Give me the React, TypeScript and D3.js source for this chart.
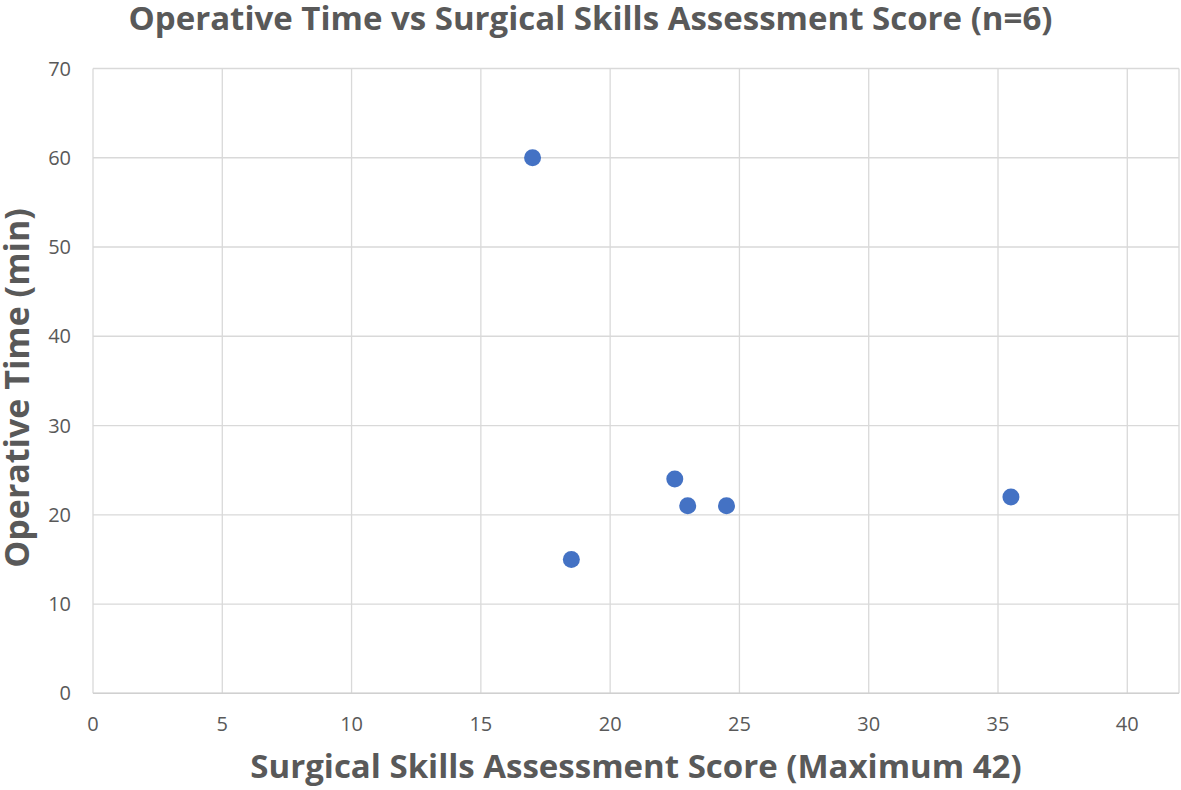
import React from "react";
import * as d3 from "d3";

const scores = [17, 18.5, 22.5, 23, 24.5, 35.5];
const times = [60, 15, 24, 21, 21, 22];
const xTicks = [0, 5, 10, 15, 20, 25, 30, 35, 40];
const yTicks = [0, 10, 20, 30, 40, 50, 60, 70];

const W = 1181;
const H = 790;
const FONT = "'Open Sans', 'Noto Sans', sans-serif";

export default function App() {
  const x = d3.scaleLinear().domain([0, 42]).range([93, 1179]);
  const y = d3.scaleLinear().domain([0, 70]).range([693.3, 68.5]);
  const pts = scores.map((s, i) => ({ s, t: times[i] }));
  return (
    <svg
      width={W}
      height={H}
      style={{ position: "absolute", left: 0, top: 0, background: "#fff" }}
    >
      <rect x={0} y={0} width={W} height={H} fill="#fff" />
      {yTicks.map((v) => (
        <line
          key={"gy" + v}
          x1={x(0)}
          x2={x(42)}
          y1={y(v)}
          y2={y(v)}
          stroke="#d9d9d9"
          strokeWidth={1.3}
        />
      ))}
      {xTicks.map((v) => (
        <line
          key={"gx" + v}
          x1={x(v)}
          x2={x(v)}
          y1={y(0)}
          y2={y(70)}
          stroke="#d9d9d9"
          strokeWidth={1.3}
        />
      ))}
      <line x1={x(42)} x2={x(42)} y1={y(0)} y2={y(70)} stroke="#d9d9d9" strokeWidth={1.3} />
      <line x1={x(0)} x2={x(42)} y1={y(0)} y2={y(0)} stroke="#d0d0d0" strokeWidth={1.5} />
      {yTicks.map((v) => (
        <text
          key={"ty" + v}
          x={71}
          y={y(v)}
          dy="0.35em"
          textAnchor="end"
          fontFamily={FONT}
          fontSize={20}
          fill="#595959"
        >
          {v}
        </text>
      ))}
      {xTicks.map((v) => (
        <text
          key={"tx" + v}
          x={x(v)}
          y={724}
          dy="0.35em"
          textAnchor="middle"
          fontFamily={FONT}
          fontSize={20}
          fill="#595959"
        >
          {v}
        </text>
      ))}
      {pts.map((p, i) => (
        <circle key={i} cx={x(p.s)} cy={y(p.t)} r={8.5} fill="#4472c4" />
      ))}
      <text
        x={590.5}
        y={30}
        textAnchor="middle"
        fontFamily={FONT}
        fontWeight="bold"
        fontSize={33}
        fill="#595959"
      >
        Operative Time vs Surgical Skills Assessment Score (n=6)
      </text>
      <text
        x={636}
        y={778}
        textAnchor="middle"
        fontFamily={FONT}
        fontWeight="bold"
        fontSize={33}
        fill="#595959"
      >
        Surgical Skills Assessment Score (Maximum 42)
      </text>
      <text
        transform={`translate(29,388) rotate(-90)`}
        textAnchor="middle"
        fontFamily={FONT}
        fontWeight="bold"
        fontSize={34}
        fill="#595959"
      >
        Operative Time (min)
      </text>
    </svg>
  );
}
